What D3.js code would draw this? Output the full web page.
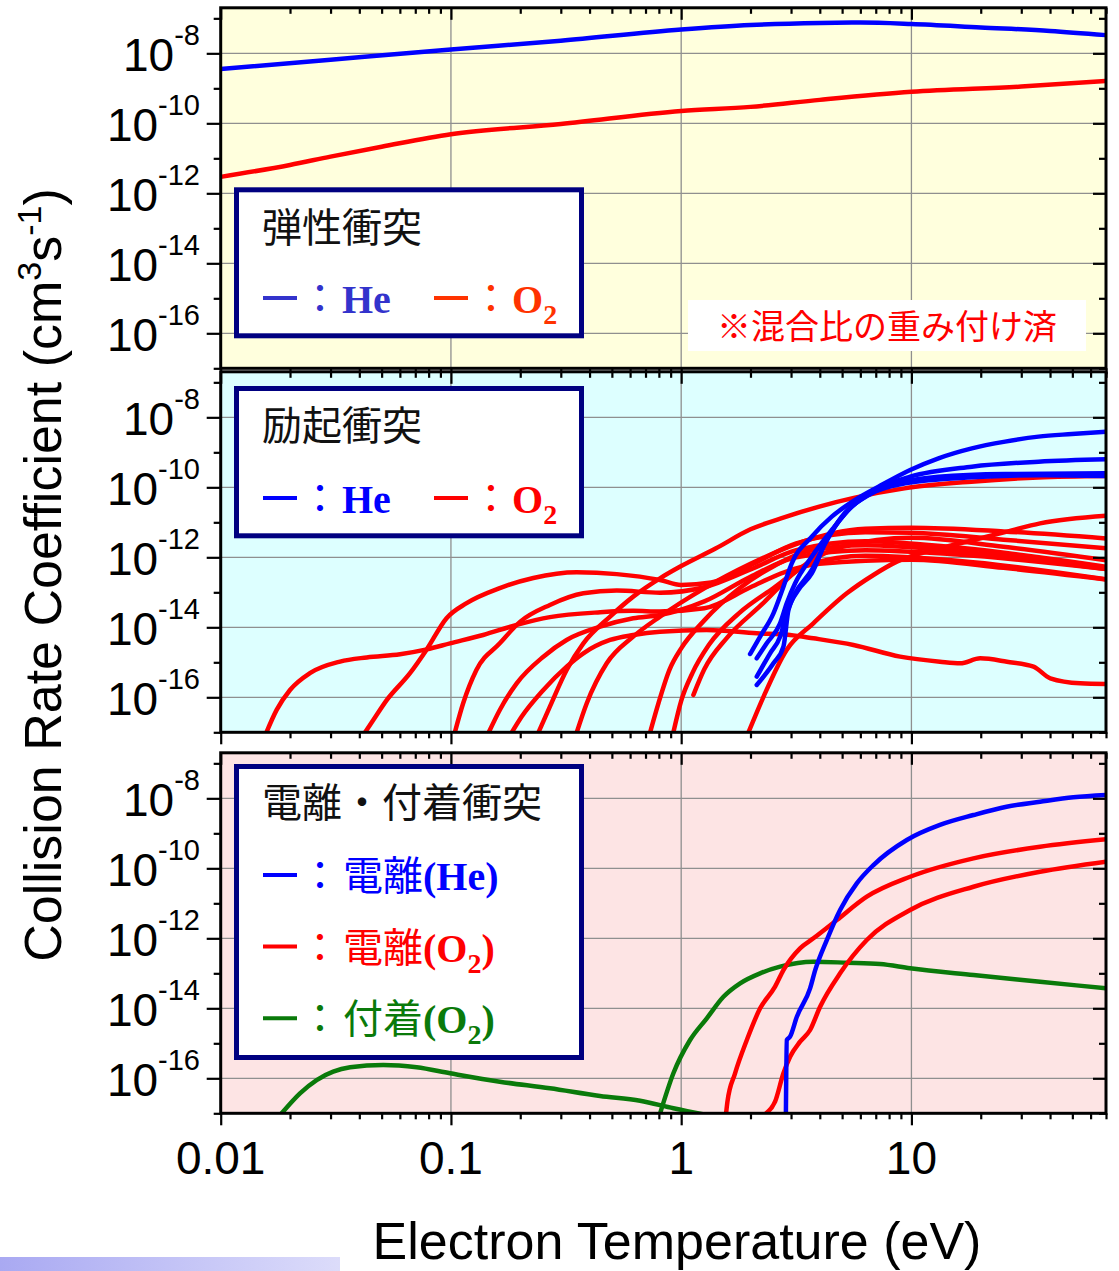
<!DOCTYPE html>
<html>
<head>
<meta charset="utf-8">
<script src="https://cdn.jsdelivr.net/npm/d3@7"></script>
<style>
  html, body { margin: 0; padding: 0; background: #fff; }
  svg { display: block; }
</style>
</head>
<body>
<svg id="chart" width="1119" height="1271"></svg>
<script>
// ---------------- data: [electron temperature (eV), rate coefficient (cm^3/s)] ----------------
const xTickValues = [0.01, 0.1, 1, 10];
const xTickLabels = ["0.01", "0.1", "1", "10"];
const yTickValues = [1e-8, 1e-10, 1e-12, 1e-14, 1e-16];
const yTickExponents = ["-8", "-10", "-12", "-14", "-16"];

// elastic collisions (weighted by mixing ratio)
const elasticHe = [[0.01,3.55e-9],[0.03,6.6e-9],[0.1,1.29e-8],[0.3,2.29e-8],[1,4.79e-8],[2,6.46e-8],
  [4,7.41e-8],[6,7.59e-8],[10,6.92e-8],[20,5.5e-8],[40,4.37e-8],[70,3.31e-8]];
const elasticO2 = [[0.01,2.95e-12],[0.02,6.46e-12],[0.03,1.12e-11],[0.05,2.14e-11],[0.1,4.9e-11],[0.3,9.55e-11],
  [1,2.24e-10],[2,2.95e-10],[4,4.68e-10],[10,7.94e-10],[30,1.12e-9],[70,1.62e-9]];

// excitation collisions, He
const excitationHe = [
  [[1.992,1.73e-15],[2.202,5.41e-15],[2.516,2.51e-14],[2.781,1.45e-13],[3.022,6.75e-13],[3.691,3.89e-12],
   [4.509,1.45e-11],[5.694,4.35e-11],[7.193,1.04e-10],[9.872,3.13e-10],[13.11,6.75e-10],[18.3,1.3e-9],
   [25.53,2.02e-9],[35.64,2.81e-9],[49.75,3.34e-9],[70,3.89e-9]],
  [[2.129,1.3e-15],[2.353,3.49e-15],[2.689,1.3e-14],[2.874,4.85e-14],[3.125,1.81e-13],[3.691,1.04e-12],
   [4.509,6.04e-12],[5.508,2.81e-11],[7.193,9.35e-11],[9.872,2.02e-10],[18.3,3.89e-10],[35.64,5.41e-10],[70,6.31e-10]],
  [[2.129,3.89e-16],[2.433,1.81e-15],[2.689,5.41e-15],[2.874,2.51e-14],[3.125,9.35e-14],[3.691,4.35e-13],
   [4.219,2.51e-12],[4.984,1.45e-11],[6.296,5.41e-11],[8.219,1.17e-10],[13.11,2.02e-10],[25.53,2.4e-10],[70,2.51e-10]],
  [[2.129,2.25e-16],[2.516,9.35e-16],[2.781,2.81e-15],[2.924,3.13e-14],[3.231,1.17e-13],[3.691,3.49e-13],
   [4.219,2.51e-12],[5.152,1.81e-11],[6.73,6.75e-11],[9.391,1.3e-10],[18.3,1.93e-10],[35.64,2.2e-10],[70,2.11e-10]]
];

// excitation collisions, O2
const excitationO2 = [
  [[0.0158,1e-17],[0.0175,4.37e-17],[0.02,1.62e-16],[0.0244,4.9e-16],[0.033,1.05e-15],[0.0431,1.38e-15],
   [0.0601,1.7e-15],[0.0785,2.34e-15],[0.0991,3.47e-15],[0.138,6.03e-15],[0.193,1.17e-14],[0.269,1.95e-14],
   [0.445,2.69e-14],[0.619,2.95e-14],[0.809,2.82e-14],[1.26,3.5e-14],[2.0,1.4e-13],[2.82,3.8e-13],
   [3.98,6.5e-13],[10,8.5e-13],[25.1,5.0e-13],[70,2.34e-13]],
  [[0.0424,1e-17],[0.046,2.24e-17],[0.0526,8.3e-17],[0.0664,4.9e-16],[0.0785,2.34e-15],[0.0957,1.82e-14],
   [0.117,4.9e-14],[0.163,1.32e-13],[0.228,2.57e-13],[0.352,3.72e-13],[0.525,3.31e-13],[0.809,2.24e-13],
   [1.0,1.62e-13],[1.35,1.9e-13],[2.0,6.0e-13],[3.16,2.5e-12],[6.31,5.2e-12],[10,5.0e-12],[25.1,3.2e-12],[70,1.82e-12]],
  [[0.104,1e-17],[0.113,6.75e-17],[0.129,6.04e-16],[0.163,3.49e-15],[0.2,1.45e-14],[0.269,4.35e-14],
   [0.376,9.35e-14],[0.525,1.12e-13],[0.809,9.77e-14],[1.26,1.4e-13],[2.0,4.5e-13],[3.16,1.6e-12],
   [6.31,2.9e-12],[15.8,1.9e-12],[70,5.4e-13]],
  [[0.146,1e-17],[0.163,4.35e-17],[0.193,2.51e-16],[0.252,1.45e-15],[0.318,4.35e-15],[0.445,1.04e-14],
   [0.619,1.81e-14],[0.809,2.25e-14],[1.26,5.5e-14],[2.0,2.8e-13],[3.16,1.0e-12],[6.31,1.6e-12],
   [15.8,1.2e-12],[70,4.6e-13]],
  [[0.184,1e-17],[0.203,2.81e-17],[0.252,1.62e-16],[0.318,7.52e-16],[0.376,1.81e-15],[0.491,4.35e-15],
   [0.619,6.04e-15],[0.809,7.52e-15],[1.29,8.4e-15],[2.13,6.75e-15],[2.97,6.04e-15],[3.75,4.85e-15],
   [5.6,3.13e-15],[8.93,1.45e-15],[13.3,1.04e-15],[16.3,9.35e-16],[19.9,1.3e-15],[26.0,1.04e-15],
   [33.9,7.52e-16],[40.1,3.49e-16],[54.1,2.51e-16],[70,2.4e-16]],
  [[0.24,1e-17],[0.269,5.41e-17],[0.318,6.04e-16],[0.376,3.49e-15],[0.491,2.02e-14],[0.619,7.52e-14],
   [0.809,2.51e-13],[1.0,5.62e-13],[1.41,1.78e-12],[2.0,6.31e-12],[2.82,1.41e-11],[3.98,2.82e-11],
   [5.62,5.0e-11],[9.33,9.33e-11],[18.2,1.45e-10],[35.5,1.91e-10],[70,2.09e-10]],
  [[0.352,1e-17],[0.389,6.75e-17],[0.475,9.35e-16],[0.619,5.41e-15],[0.809,2.02e-14],[1.26,1.3e-13],
   [2.0,6.5e-13],[3.16,2.4e-12],[6.31,6.5e-12],[10,7.0e-12],[25.1,5.5e-12],[70,3.47e-12]],
  [[0.733,1e-17],[0.794,6.3e-17],[0.891,6.3e-16],[1.0,2.5e-15],[1.26,1.58e-14],[1.78,1.26e-13],
   [2.51,5.5e-13],[3.55,1.5e-12],[6.31,2.2e-12],[15.8,1.5e-12],[70,4.6e-13]],
  [[0.925,1e-17],[1.0,7.9e-17],[1.12,5.0e-16],[1.32,3.16e-15],[1.78,2.51e-14],[2.51,1.3e-13],
   [3.55,6.0e-13],[6.31,1.1e-12],[15.8,8.0e-13],[70,2.34e-13]],
  [[1.13,1.17e-16],[1.26,6.3e-16],[1.58,5.0e-15],[2.24,4.5e-14],[3.16,4.0e-13],[5.0,2.0e-12],
   [10,3.6e-12],[25.1,2.0e-12],[70,8.3e-13]],
  [[1.96,1e-17],[2.28,1.05e-16],[2.87,2.25e-15],[3.75,1.3e-14],[5.24,9.35e-14],[6.84,3.13e-13],
   [8.64,7.52e-13],[13.3,1.81e-12],[18.6,3.13e-12],[26.0,5.41e-12],[36.2,9.35e-12],[70,1.55e-11]]
];

// ionization and attachment collisions
const ionizationHe = [[2.85,1e-17],[2.876,1.24e-15],[2.97,1.55e-15],[3.18,5.75e-15],[3.63,3.72e-14],[3.82,1.23e-13],
  [4.29,8.9e-13],[4.9,6.46e-12],[5.79,3.72e-11],[6.84,1.24e-10],[9.55,6.46e-10],[13.3,1.74e-9],
  [18.6,3.33e-9],[25.9,5.75e-9],[36.2,8.0e-9],[50.5,1.07e-8],[70,1.24e-8]];
const ionizationO2 = [
  [[1.567,1e-17],[1.588,2.14e-17],[1.714,1.39e-16],[1.928,1.24e-15],[2.202,1.0e-14],[2.557,4.14e-14],
   [2.78,1.24e-13],[3.284,5.18e-13],[3.752,1.0e-12],[4.744,3.33e-12],[6.4,1.55e-11],[9.87,5.75e-11],
   [18.6,1.93e-10],[36.2,4.14e-10],[70,6.75e-10]],
  [[2.339,1e-17],[2.557,2.14e-17],[2.78,1.39e-16],[2.972,4.14e-16],[3.284,1.11e-15],[3.63,2.4e-15],
   [4.012,1.11e-14],[4.9,1.0e-13],[6.4,8.93e-13],[9.87,6.44e-12],[18.6,2.98e-11],[36.2,8.0e-11],[70,1.55e-10]]
];
const attachmentO2 = [
  [[0.0184,1e-17],[0.0221,3.72e-17],[0.0261,8.93e-17],[0.0308,1.55e-16],[0.0365,2.06e-16],[0.0508,2.4e-16],
   [0.071,2.06e-16],[0.0991,1.39e-16],[0.163,8.0e-17],[0.269,5.18e-17],[0.444,3.12e-17],[0.663,2.29e-17],
   [0.925,1.39e-17],[1.292,8.9e-18]],
  [[0.81,1e-17],[0.925,1.39e-16],[1.093,1.24e-15],[1.292,5.18e-15],[1.526,2.14e-14],[1.803,5.18e-14],
   [2.202,1.0e-13],[2.69,1.55e-13],[3.752,2.14e-13],[5.242,2.01e-13],[7.31,1.85e-13],[9.87,1.39e-13],
   [18.6,8.93e-14],[36.2,5.75e-14],[70,3.72e-14]]
];

// ---------------- layout ----------------
const svg = d3.select("#chart");
const plotLeft = 220.7, plotRight = 1106;
const panelH = 360.5;
const fontSans = "'Liberation Sans', Arial, sans-serif";
const fontSerif = "'Liberation Serif', 'Times New Roman', serif";
const fontJP = "'Noto Sans CJK JP', 'Noto Sans', sans-serif";
const BLUE = "#0000ff", RED = "#ff0000", GREEN = "#0a7a0a", NAVY = "#000080";

const x = d3.scaleLog().domain([0.01, 70]).range([plotLeft, plotRight]);

const xMinor = [];
[0.01, 0.1, 1, 10].forEach(d => { for (let m = 2; m <= 9; m++) { const v = m * d; if (v <= 70.001) xMinor.push(v); } });
const yMinor = [1e-17, 1e-15, 1e-13, 1e-11, 1e-9, 1e-7];

const panels = [
  { top: 7.8,   fill: "#ffffdd", series: [
      { data: elasticO2, color: RED }, { data: elasticHe, color: BLUE } ] },
  { top: 371.8, fill: "#ddffff", series: [
      ...excitationO2.map(d => ({ data: d, color: RED })),
      ...excitationHe.map(d => ({ data: d, color: BLUE })) ] },
  { top: 752.8, fill: "#fde4e4", series: [
      ...attachmentO2.map(d => ({ data: d, color: GREEN })),
      ...ionizationO2.map(d => ({ data: d, color: RED })),
      { data: ionizationHe, color: BLUE } ] }
];

const defs = svg.append("defs");

function styleTicks(sel) {
  sel.select(".domain").remove();
  sel.selectAll(".tick line").attr("stroke", "#000").attr("stroke-width", 2.2);
}

panels.forEach((p, i) => {
  const top = p.top, bottom = top + panelH;
  const y = d3.scaleLog().domain([1e-17, 2e-7]).range([bottom, top]);
  const g = svg.append("g");

  // background
  g.append("rect").attr("x", plotLeft).attr("y", top)
    .attr("width", plotRight - plotLeft).attr("height", panelH).attr("fill", p.fill);

  // grid
  g.append("g").selectAll("line").data(xTickValues.slice(1)).join("line")
    .attr("x1", d => x(d)).attr("x2", d => x(d)).attr("y1", top).attr("y2", bottom)
    .attr("stroke", "#8f8f8f").attr("stroke-width", 1.3);
  g.append("g").selectAll("line").data(yTickValues).join("line")
    .attr("x1", plotLeft).attr("x2", plotRight).attr("y1", d => y(d)).attr("y2", d => y(d))
    .attr("stroke", "#8f8f8f").attr("stroke-width", 1.3);

  // curves
  const clipId = "clip" + i;
  defs.append("clipPath").attr("id", clipId).append("rect")
    .attr("x", plotLeft).attr("y", top).attr("width", plotRight - plotLeft).attr("height", panelH);
  const line = d3.line().x(d => x(d[0])).y(d => y(d[1])).curve(d3.curveMonotoneX);
  g.append("g").attr("clip-path", `url(#${clipId})`)
    .selectAll("path").data(p.series).join("path")
    .attr("d", d => line(d.data)).attr("fill", "none")
    .attr("stroke", d => d.color).attr("stroke-width", 4.5)
    .attr("stroke-linejoin", "round").attr("stroke-linecap", "round");

  // ticks
  g.append("g").attr("transform", `translate(0,${bottom})`)
    .call(d3.axisBottom(x).tickValues(xMinor).tickSize(6).tickFormat("")).call(styleTicks);
  g.append("g").attr("transform", `translate(0,${bottom})`)
    .call(d3.axisBottom(x).tickValues(xTickValues).tickSize(12).tickFormat("")).call(styleTicks);
  g.append("g").attr("transform", `translate(0,${top})`)
    .call(d3.axisTop(x).tickValues(xMinor).tickSize(-6).tickFormat("")).call(styleTicks);
  g.append("g").attr("transform", `translate(0,${top})`)
    .call(d3.axisTop(x).tickValues(xTickValues).tickSize(-12).tickFormat("")).call(styleTicks);
  g.append("g").attr("transform", `translate(${plotLeft},0)`)
    .call(d3.axisLeft(y).tickValues(yMinor).tickSize(7).tickFormat("")).call(styleTicks);
  g.append("g").attr("transform", `translate(${plotLeft},0)`)
    .call(d3.axisLeft(y).tickValues(yTickValues).tickSize(14).tickFormat("")).call(styleTicks);
  g.append("g").attr("transform", `translate(${plotRight},0)`)
    .call(d3.axisRight(y).tickValues(yMinor).tickSize(-7).tickFormat("")).call(styleTicks);
  g.append("g").attr("transform", `translate(${plotRight},0)`)
    .call(d3.axisRight(y).tickValues(yTickValues).tickSize(-13).tickFormat("")).call(styleTicks);

  // y tick labels: 10^n
  const lab = g.append("g").selectAll("text").data(yTickValues).join("text")
    .attr("x", 200).attr("y", d => y(d) + 18)
    .attr("text-anchor", "end").attr("font-family", fontSans).attr("font-size", 46).attr("fill", "#000");
  lab.append("tspan").text("10");
  lab.append("tspan").attr("dy", -26).attr("font-size", 29).text((d, j) => yTickExponents[j]);

  p.g = g;
});

// frames drawn last so they sit above the curves
panels.forEach(p => {
  p.g.append("rect").attr("x", plotLeft).attr("y", p.top)
    .attr("width", plotRight - plotLeft).attr("height", panelH)
    .attr("fill", "none").attr("stroke", "#000").attr("stroke-width", 3);
});

// x tick labels (bottom panel only)
svg.append("g").selectAll("text").data(xTickValues).join("text")
  .attr("x", d => x(d)).attr("y", 1174).attr("text-anchor", "middle")
  .attr("font-family", fontSans).attr("font-size", 46).attr("fill", "#000")
  .text((d, j) => xTickLabels[j]);

// axis titles
svg.append("text").attr("x", 677).attr("y", 1259).attr("text-anchor", "middle")
  .attr("font-family", fontSans).attr("font-size", 52).attr("fill", "#000")
  .text("Electron Temperature (eV)");
const yt = svg.append("text").attr("transform", "translate(61,575) rotate(-90)")
  .attr("text-anchor", "middle").attr("font-family", fontSans).attr("font-size", 52).attr("fill", "#000");
yt.append("tspan").text("Collision Rate Coefficient (cm");
yt.append("tspan").attr("dy", -20).attr("font-size", 34).text("3");
yt.append("tspan").attr("dy", 20).text("s");
yt.append("tspan").attr("dy", -20).attr("font-size", 34).text("-1");
yt.append("tspan").attr("dy", 20).text(")");

// ---------------- legends ----------------
function legendBox(y0, h) {
  svg.append("rect").attr("x", 236.5).attr("y", y0).attr("width", 345).attr("height", h)
    .attr("fill", "#fff").attr("stroke", NAVY).attr("stroke-width", 5);
}
function legendTitle(txt, base) {
  svg.append("text").attr("x", 262).attr("y", base).attr("font-family", fontJP)
    .attr("font-size", 40).attr("fill", "#111").text(txt);
}
function swatch(x1, x2, yy, color) {
  svg.append("line").attr("x1", x1).attr("x2", x2).attr("y1", yy).attr("y2", yy)
    .attr("stroke", color).attr("stroke-width", 4);
}
function colon(xx, base, color) {
  svg.append("text").attr("x", xx).attr("y", base).attr("font-family", fontJP)
    .attr("font-size", 40).attr("fill", color).text("：");
}
function speciesRow(base, heColor, o2Color) {
  swatch(263, 297, base - 15, heColor);
  colon(300, base, heColor);
  svg.append("text").attr("x", 342).attr("y", base).attr("font-family", fontSerif)
    .attr("font-weight", "bold").attr("font-size", 40).attr("fill", heColor).text("He");
  swatch(434, 468, base - 15, o2Color);
  colon(471, base, o2Color);
  const t = svg.append("text").attr("x", 512).attr("y", base).attr("font-family", fontSerif)
    .attr("font-weight", "bold").attr("font-size", 40).attr("fill", o2Color);
  t.append("tspan").text("O");
  t.append("tspan").attr("dy", 11).attr("font-size", 28).text("2");
}

// elastic
legendBox(189.8, 146);
legendTitle("弾性衝突", 242);
speciesRow(313, "#3333cc", "#ff3300");
svg.append("rect").attr("x", 688).attr("y", 300).attr("width", 398).attr("height", 51).attr("fill", "#fff");
svg.append("text").attr("x", 717).attr("y", 339).attr("font-family", fontJP)
  .attr("font-size", 34).attr("fill", RED).text("※混合比の重み付け済");

// excitation
legendBox(388.5, 147.3);
legendTitle("励起衝突", 440);
speciesRow(513, BLUE, RED);

// ionization / attachment
legendBox(766.5, 291);
legendTitle("電離・付着衝突", 817);
const rows = [
  { base: 890,   color: BLUE,  jp: "電離", gas: "He" },
  { base: 961.6, color: RED,   jp: "電離", gas: "O" },
  { base: 1033.2, color: GREEN, jp: "付着", gas: "O" }
];
rows.forEach(r => {
  swatch(263, 297, r.base - 15, r.color);
  colon(300, r.base, r.color);
  const t = svg.append("text").attr("x", 343).attr("y", r.base).attr("fill", r.color).attr("font-size", 40);
  t.append("tspan").attr("font-family", fontJP).text(r.jp);
  t.append("tspan").attr("font-family", fontSerif).attr("font-weight", "bold").text("(" + r.gas);
  if (r.gas === "O") {
    t.append("tspan").attr("font-family", fontSerif).attr("font-weight", "bold")
      .attr("font-size", 28).attr("dy", 11).text("2");
    t.append("tspan").attr("font-family", fontSerif).attr("font-weight", "bold")
      .attr("dy", -11).text(")");
  } else {
    t.append("tspan").attr("font-family", fontSerif).attr("font-weight", "bold").text(")");
  }
});

// decorative gradient strip at the lower left
const grad = defs.append("linearGradient").attr("id", "strip").attr("x1", "0%").attr("x2", "100%");
grad.append("stop").attr("offset", "0%").attr("stop-color", "#a9a9f2");
grad.append("stop").attr("offset", "100%").attr("stop-color", "#dcdcfa");
svg.append("rect").attr("x", 0).attr("y", 1257).attr("width", 340).attr("height", 14).attr("fill", "url(#strip)");
</script>
</body>
</html>
